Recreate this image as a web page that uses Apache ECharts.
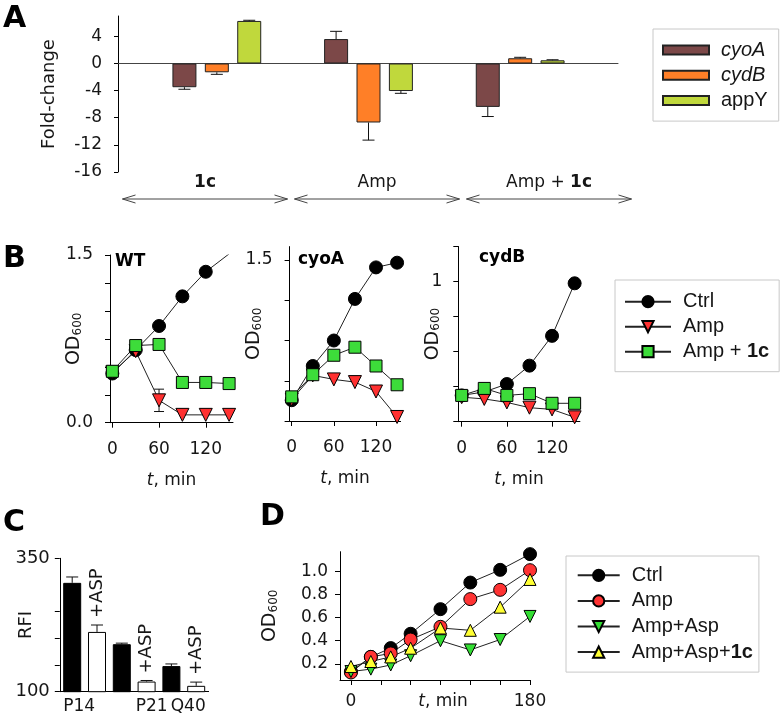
<!DOCTYPE html>
<html><head><meta charset="utf-8">
<script src="https://cdn.jsdelivr.net/npm/echarts@6/dist/echarts.min.js"></script>
<style>html,body{margin:0;padding:0;background:#fff}#c{width:784px;height:720px}</style>
</head><body><div id="c"></div>
<script>
// ---------- Panel A ----------
const aCategories = ['1c', 'Amp', 'Amp + 1c'];
const aGenes = ['cyoA', 'cydB', 'appY'];
const aCyoA = [-3.5, 3.6, -6.4];
const aCydB = [-1.3, -8.7, 0.77];
const aAppY = [6.27, -4.06, 0.47];
const aCyoAErr = [0.3, 1.14, 1.42];
const aCydBErr = [0.3, 2.6, 0.14];
const aAppYErr = [0.1, 0.34, 0.08];
const aYTicks = [-16, -12, -8, -4, 0, 4];

// ---------- Panel B ----------
const bTime = [0, 30, 60, 90, 120, 150];
const bXTicks = [0, 60, 120];
const bNames = ['Ctrl', 'Amp', 'Amp + 1c'];
const wtCtrl = [0.44, 0.65, 0.865, 1.13, 1.35, 1.51];
const wtAmp = [0.45, 0.64, 0.20, 0.07, 0.07, 0.07];
const wtAmpErr = [0, 0, 0.1, 0, 0, 0];
const wtAmp1c = [0.46, 0.69, 0.70, 0.36, 0.36, 0.35];
const cyoCtrl = [0.455, 0.71, 0.90, 1.21, 1.445, 1.48];
const cyoAmp = [0.46, 0.64, 0.61, 0.59, 0.52, 0.33];
const cyoAmp1c = [0.48, 0.645, 0.79, 0.85, 0.71, 0.57];
const cydCtrl = [0.35, 0.37, 0.415, 0.52, 0.69, 0.99];
const cydAmp = [0.34, 0.33, 0.31, 0.28, 0.27, 0.225];
const cydAmp1c = [0.35, 0.39, 0.35, 0.36, 0.305, 0.305];
const wtYTicks = [0, 0.25, 0.5, 0.75, 1, 1.25, 1.5];
const wtYLabels = [0, 1.5];
const cyoYTicks = [0.3, 0.6, 0.9, 1.2, 1.5];
const cyoYLabels = [1.5];
const cydYTicks = [0.2, 0.4, 0.6, 0.8, 1.0, 1.2];
const cydYLabels = [1];

// ---------- Panel C ----------
const cCategories = ['P14', 'P14 +ASP', 'P21', 'P21 +ASP', 'Q40', 'Q40 +ASP'];
const cValues = [304, 212, 189, 119, 148, 111];
const cErr = [11, 13, 2, 2, 4, 7];
const cYTicks = [100, 150, 200, 250, 350];
const cYLabels = [100, 350];

// ---------- Panel D ----------
const dTime = [0, 20, 40, 60, 90, 120, 150, 180];
const dNames = ['Ctrl', 'Amp', 'Amp+Asp', 'Amp+Asp+1c'];
const dCtrl = [0.133, 0.26, 0.336, 0.46, 0.673, 0.903, 1.013, 1.149];
const dAmp = [0.125, 0.26, 0.29, 0.41, 0.52, 0.76, 0.84, 1.01];
const dAmpAsp = [0.133, 0.154, 0.19, 0.27, 0.40, 0.32, 0.41, 0.61];
const dAmpAsp1c = [0.177, 0.22, 0.26, 0.335, 0.51, 0.49, 0.69, 0.93];
const dXTicks = [0, 30, 60, 90, 120, 150, 180];
const dXLabels = [0, 180];
const dYTicks = [0.2, 0.4, 0.6, 0.8, 1.0];

// ---------- styling ----------
const FONT = 'DejaVu Sans';
const LFONT = 'Liberation Sans';
const TXT = '#161616';
const ts = (size, extra) => Object.assign({fontFamily: FONT, fontSize: size, color: TXT}, extra || {});
const lineAx = {show: true, onZero: false, lineStyle: {color: '#000', width: 1}};
const tick = (vals, len) => ({show: true, length: len || 5, customValues: vals, lineStyle: {color: '#000', width: 1}});
const odName = {
  name: '{o|OD}{s|600}', nameLocation: 'middle', nameMoveOverlap: false,
  nameTextStyle: {rich: {o: ts(19), s: ts(12, {lineHeight: 8, verticalAlign: 'bottom'})}}
};
const tName = {
  name: '{i|t}, min', nameLocation: 'middle', nameMoveOverlap: false,
  nameTextStyle: ts(17, {rich: {i: ts(17, {fontStyle: 'italic'})}})
};

const geneColors = {cyoA: '#7c4848', cydB: '#ff7f27', appY: '#c0d83c'};
const bStyle = {
  'Ctrl': {symbol: 'circle', size: 13, color: '#000', rotate: 0},
  'Amp': {symbol: 'triangle', size: 13, color: '#ff3030', rotate: 180},
  'Amp + 1c': {symbol: 'rect', size: 12, color: '#3ddc3a', rotate: 0}
};
const dStyle = {
  'Ctrl': {symbol: 'circle', size: 13, color: '#000', rotate: 0},
  'Amp': {symbol: 'circle', size: 13, color: '#ff3333', rotate: 0},
  'Amp+Asp': {symbol: 'triangle', size: 12, color: '#33dd33', rotate: 180},
  'Amp+Asp+1c': {symbol: 'triangle', size: 12, color: '#ffff33', rotate: 0}
};

function errSeries(xi, yi, data, opt) {
  return {
    type: 'custom', xAxisIndex: xi, yAxisIndex: yi, data: data, silent: true,
    encode: {x: 0, y: [1, 2]}, z: opt.z || 3,
    renderItem: (params, api) => {
      const p1 = api.coord([api.value(0), api.value(1)]);
      const p2 = api.coord([api.value(0), api.value(2)]);
      const x = p1[0] + (opt.offset || 0);
      const w = opt.cap / 2;
      const st = {stroke: '#111', lineWidth: 1};
      const ch = [
        {type: 'line', shape: {x1: x, y1: p1[1], x2: x, y2: p2[1]}, style: st},
        {type: 'line', shape: {x1: x - w, y1: p2[1], x2: x + w, y2: p2[1]}, style: st}
      ];
      if (opt.both) ch.push({type: 'line', shape: {x1: x - w, y1: p1[1], x2: x + w, y2: p1[1]}, style: st});
      if (opt.label) {
        const t = opt.label(params.dataIndex);
        if (t) ch.push({type: 'text', x: x, y: p2[1] - opt.labelGap, rotation: Math.PI / 2,
          style: {text: t, align: 'left', verticalAlign: 'middle', font: opt.labelFont, fill: TXT}});
      }
      return {type: 'group', children: ch};
    }
  };
}

function lineSeries(prefix, name, xi, times, vals, styles) {
  const s = styles[name];
  return {
    type: 'line', name: prefix + name, xAxisIndex: xi, yAxisIndex: xi,
    data: times.map((t, i) => [t, vals[i]]),
    symbol: s.symbol, symbolSize: s.size, symbolRotate: s.rotate, showSymbol: true,
    lineStyle: {color: '#222', width: 1},
    itemStyle: {color: s.color, borderColor: '#000', borderWidth: 1},
    emphasis: {disabled: true}, animation: false
  };
}

// Panel A bars
const BAR_W = 24, BAR_GAP = 0.35;
const aSeries = [];
const aVals = {cyoA: aCyoA, cydB: aCydB, appY: aAppY};
const aErrs = {cyoA: aCyoAErr, cydB: aCydBErr, appY: aAppYErr};
aGenes.forEach((g) => {
  aSeries.push({
    type: 'bar', name: g, xAxisIndex: 0, yAxisIndex: 0, data: aVals[g],
    barWidth: BAR_W, barGap: (BAR_GAP * 100) + '%',
    itemStyle: {color: geneColors[g], borderColor: '#222', borderWidth: 1},
    emphasis: {disabled: true}
  });
});
aGenes.forEach((g, k) => {
  const vals = aVals[g], errs = aErrs[g];
  aSeries.push(errSeries(0, 0, vals.map((v, i) => [i, v, v < 0 ? v - errs[i] : v + errs[i]]),
    {cap: 12, offset: (k - 1) * BAR_W * (1 + BAR_GAP)}));
});
// arrows under the categories
aSeries.push({
  type: 'custom', xAxisIndex: 2, yAxisIndex: 2, silent: true,
  data: aCategories.map((c, i) => [i, 0.5]),
  renderItem: (params, api) => {
    const c = api.coord([api.value(0), api.value(1)]);
    const bw = api.size([1, 0])[0];
    const x1 = c[0] - bw / 2 + 3.5, x2 = c[0] + bw / 2 - 3.5, y = c[1];
    const st = {stroke: '#444', lineWidth: 1, fill: null};
    return {type: 'group', children: [
      {type: 'line', shape: {x1: x1, y1: y, x2: x2, y2: y}, style: st},
      {type: 'polyline', shape: {points: [[x1 + 13, y - 4], [x1, y], [x1 + 13, y + 4]]}, style: st},
      {type: 'polyline', shape: {points: [[x2 - 13, y - 4], [x2, y], [x2 - 13, y + 4]]}, style: st}
    ]};
  }
});

// Panel B series
const bSets = [
  {xi: 3, ctrl: wtCtrl, amp: wtAmp, amp1c: wtAmp1c, err: wtAmpErr},
  {xi: 4, ctrl: cyoCtrl, amp: cyoAmp, amp1c: cyoAmp1c, err: null},
  {xi: 5, ctrl: cydCtrl, amp: cydAmp, amp1c: cydAmp1c, err: null}
];
const bSeries = [];
bSets.forEach(s => {
  bSeries.push(lineSeries('B:', 'Ctrl', s.xi, bTime, s.ctrl, bStyle));
  if (s.err) {
    bSeries.push(errSeries(s.xi, s.xi,
      bTime.map((t, i) => [t, s.amp[i] - s.err[i], s.amp[i] + s.err[i]]).filter((d, i) => s.err[i] > 0),
      {cap: 10, both: true, z: 2}));
  }
  bSeries.push(lineSeries('B:', 'Amp', s.xi, bTime, s.amp, bStyle));
  bSeries.push(lineSeries('B:', 'Amp + 1c', s.xi, bTime, s.amp1c, bStyle));
});

// Panel C
const cSeries = [
  {
    type: 'bar', xAxisIndex: 6, yAxisIndex: 6, data: cValues, barWidth: 18,
    itemStyle: {color: p => (p.dataIndex % 2 ? '#fff' : '#000'), borderColor: '#000', borderWidth: 1},
    emphasis: {disabled: true}
  },
  errSeries(6, 6, cValues.map((v, i) => [i, v, v + cErr[i]]), {
    cap: 12, labelGap: 7, labelFont: '18px "DejaVu Sans"',
    label: i => (cCategories[i].split(' ')[1] || '')
  })
];

// Panel D
const dVals = {'Ctrl': dCtrl, 'Amp': dAmp, 'Amp+Asp': dAmpAsp, 'Amp+Asp+1c': dAmpAsp1c};
const dSeries = dNames.map(n => lineSeries('D:', n, 7, dTime, dVals[n], dStyle));

const boldTail = n => n.replace(/1c$/, '{b|1c}');
const legendText = (rich) => ({fontFamily: LFONT, fontSize: 20, color: TXT, padding: [0, 0, 0, 7], rich: rich});

const option = {
  animation: false,
  backgroundColor: '#fff',
  title: [
    {text: 'A', left: 3, top: 4, padding: 0, textStyle: ts(30, {fontWeight: 'bold', color: '#000'})},
    {text: 'B', left: 3, top: 244, padding: 0, textStyle: ts(30, {fontWeight: 'bold', color: '#000'})},
    {text: 'C', left: 3, top: 508, padding: 0, textStyle: ts(30, {fontWeight: 'bold', color: '#000'})},
    {text: 'D', left: 260, top: 502, padding: 0, textStyle: ts(30, {fontWeight: 'bold', color: '#000'})},
    {text: 'WT', left: 115, top: 253, padding: 0, textStyle: ts(17, {fontWeight: 'bold', color: '#000'})},
    {text: 'cyoA', left: 298, top: 251, padding: 0, textStyle: ts(17, {fontWeight: 'bold', color: '#000'})},
    {text: 'cydB', left: 479, top: 249, padding: 0, textStyle: ts(17, {fontWeight: 'bold', color: '#000'})}
  ],
  legend: [
    {
      data: aGenes, orient: 'vertical', left: 653, top: 29, icon: 'rect',
      itemWidth: 46, itemHeight: 9, itemGap: 5.3, padding: [11, 11, 10.5, 9],
      borderColor: '#c8c8c8', borderWidth: 1, selectedMode: false,
      formatter: n => (n === 'appY' ? n : '{i|' + n + '}'),
      textStyle: legendText({i: {fontFamily: LFONT, fontSize: 20, color: TXT, fontStyle: 'italic'}})
    },
    {
      data: bNames.map(n => 'B:' + n), orient: 'vertical', left: 615, top: 280,
      itemWidth: 46, itemHeight: 14, itemGap: 5, padding: [11.7, 10, 10, 9],
      borderColor: '#c8c8c8', borderWidth: 1, selectedMode: false,
      formatter: n => boldTail(n.slice(2)),
      textStyle: legendText({b: {fontFamily: LFONT, fontSize: 20, color: TXT, fontWeight: 'bold'}})
    },
    {
      data: dNames.map(n => 'D:' + n), orient: 'vertical', left: 566, top: 556,
      itemWidth: 42, itemHeight: 14, itemGap: 5.6, padding: [9.3, 6, 10, 10.7],
      borderColor: '#c8c8c8', borderWidth: 1, selectedMode: false,
      formatter: n => boldTail(n.slice(2)),
      textStyle: legendText({b: {fontFamily: LFONT, fontSize: 20, color: TXT, fontWeight: 'bold'}})
    }
  ],
  grid: [
    {left: 141, top: 16, width: 455, height: 156, outerBoundsMode: 'none'},
    {left: 118, top: 16, width: 500, height: 156, outerBoundsMode: 'none'},
    {left: 119, top: 194, width: 516, height: 10, outerBoundsMode: 'none'},
    {left: 110, top: 255, width: 123, height: 167.7, outerBoundsMode: 'none'},
    {left: 289.6, top: 246.6, width: 111, height: 174.4, outerBoundsMode: 'none'},
    {left: 458.3, top: 246.5, width: 121.6, height: 175.2, outerBoundsMode: 'none'},
    {left: 59.8, top: 558.3, width: 148.8, height: 133.4, outerBoundsMode: 'none'},
    {left: 340, top: 551.7, width: 190, height: 128.3, outerBoundsMode: 'none'}
  ],
  xAxis: [
    {gridIndex: 0, type: 'category', data: aCategories, show: false},
    {gridIndex: 1, type: 'value', min: 0, max: 1,
      axisLine: {show: true, onZero: true, lineStyle: {color: '#444', width: 1}},
      axisTick: {show: false}, axisLabel: {show: false}, splitLine: {show: false}},
    {gridIndex: 2, type: 'category', data: aCategories, position: 'top',
      axisLine: {show: false}, axisTick: {show: false}, splitLine: {show: false},
      axisLabel: Object.assign(ts(17), {margin: 2.5, interval: 0, formatter: v => v.replace(/1c/, '{b|1c}'),
        rich: {b: ts(17, {fontWeight: 'bold'})}})},
    Object.assign({gridIndex: 3, type: 'value', min: -3, max: 155, axisLine: lineAx, axisTick: tick(bXTicks),
      axisLabel: Object.assign(ts(17), {customValues: bXTicks, margin: 18}), splitLine: {show: false}, nameGap: 49}, tName),
    Object.assign({gridIndex: 4, type: 'value', min: -3, max: 155, axisLine: lineAx, axisTick: tick(bXTicks),
      axisLabel: Object.assign(ts(17), {customValues: bXTicks, margin: 18}), splitLine: {show: false}, nameGap: 49}, tName),
    Object.assign({gridIndex: 5, type: 'value', min: -4.5, max: 157, axisLine: lineAx, axisTick: tick(bXTicks),
      axisLabel: Object.assign(ts(17), {customValues: bXTicks, margin: 18}), splitLine: {show: false}, nameGap: 49}, tName),
    {gridIndex: 6, type: 'category', data: cCategories, axisLine: lineAx, axisTick: {show: false},
      axisLabel: Object.assign(ts(17), {margin: 6, interval: 0,
        formatter: (v, i) => {
          const key = {0: 'a', 3: 'b', 5: 'c'}[i];
          return key ? '{' + key + '|' + v.split(' ')[0] + '}' : '';
        },
        rich: {a: ts(17, {padding: [0, 0, 0, 14]}), b: ts(17, {padding: [0, 0, 0, 10]}), c: ts(17, {padding: [0, 16, 0, 0]})}})},
    Object.assign({gridIndex: 7, type: 'value', min: -11, max: 180, axisLine: lineAx, axisTick: tick(dXTicks),
      axisLabel: Object.assign(ts(17), {customValues: dXLabels, margin: 13}), splitLine: {show: false}, nameGap: 13},
      tName, {nameTextStyle: ts(17, {padding: [0, 0, 0, 16], rich: {i: ts(17, {fontStyle: 'italic'})}})})
  ],
  yAxis: [
    {gridIndex: 0, type: 'value', min: -16, max: 7, offset: 23, axisLine: lineAx, axisTick: tick(aYTicks, 4),
      axisLabel: Object.assign(ts(17), {customValues: aYTicks, margin: 16}), splitLine: {show: false},
      name: 'Fold-change', nameLocation: 'middle', nameGap: 60, nameMoveOverlap: false, nameTextStyle: ts(18)},
    {gridIndex: 1, type: 'value', min: -16, max: 7, show: false},
    {gridIndex: 2, type: 'value', min: 0, max: 1, show: false},
    Object.assign({gridIndex: 3, type: 'value', min: 0, max: 1.5, axisLine: lineAx, axisTick: tick(wtYTicks),
      axisLabel: Object.assign(ts(17), {customValues: wtYLabels, margin: 17, formatter: v => v.toFixed(1)}),
      splitLine: {show: false}, nameGap: 26}, odName),
    Object.assign({gridIndex: 4, type: 'value', min: 0.3, max: 1.6, axisLine: lineAx, axisTick: tick(cyoYTicks),
      axisLabel: Object.assign(ts(17), {customValues: cyoYLabels, margin: 17, formatter: v => v.toFixed(1)}),
      splitLine: {show: false}, nameGap: 26}, odName),
    Object.assign({gridIndex: 5, type: 'value', min: 0.2, max: 1.2, axisLine: lineAx, axisTick: tick(cydYTicks),
      axisLabel: Object.assign(ts(17), {customValues: cydYLabels, margin: 16, formatter: v => String(Math.round(v * 10) / 10)}),
      splitLine: {show: false}, nameGap: 16}, odName),
    {gridIndex: 6, type: 'value', min: 100, max: 350, axisLine: lineAx, axisTick: tick(cYTicks),
      axisLabel: Object.assign(ts(18), {customValues: cYLabels, margin: 10}), splitLine: {show: false},
      name: 'RFI', nameLocation: 'middle', nameGap: 24, nameMoveOverlap: false, nameTextStyle: ts(18)},
    Object.assign({gridIndex: 7, type: 'value', min: 0.06, max: 1.17, axisLine: lineAx, axisTick: tick(dYTicks),
      axisLabel: Object.assign(ts(17), {customValues: dYTicks, margin: 12, formatter: v => v.toFixed(1)}),
      splitLine: {show: false}, nameGap: 60}, odName)
  ],
  series: [].concat(aSeries, bSeries, cSeries, dSeries)
};

const chart = echarts.init(document.getElementById('c'), null, {renderer: 'canvas'});
chart.setOption(option);
</script>
</body></html>
